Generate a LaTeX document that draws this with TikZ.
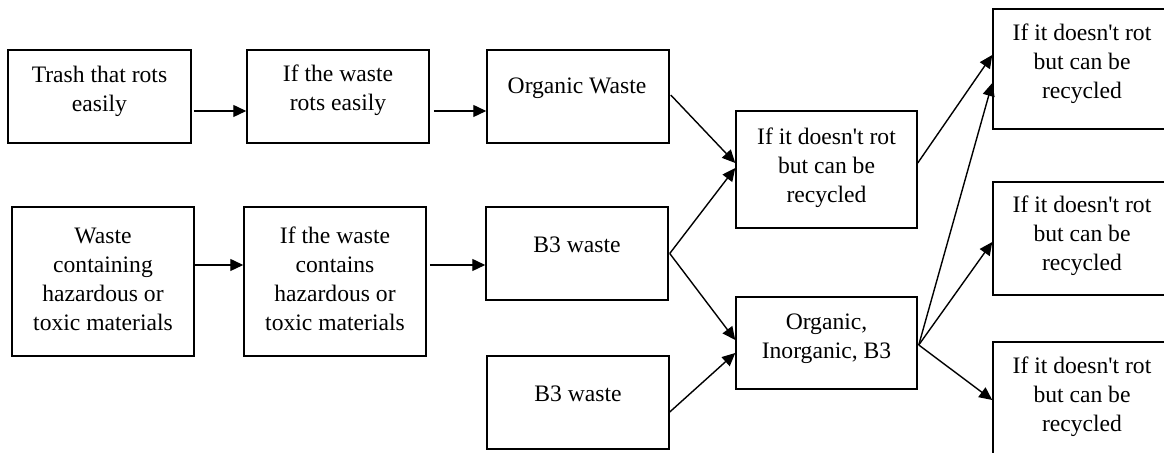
\documentclass[tikz,border=0pt]{standalone}
\usepackage{fontspec}
\setmainfont{Liberation Serif}
\usetikzlibrary{arrows.meta,calc}
\newcommand{\doesnt}{doesn\textquotesingle t}
\begin{document}
\begin{tikzpicture}[x=0.5pt,y=-0.5pt,
  box/.style={draw=black, line width=0.75pt, inner sep=0pt},
  txt/.style={align=center, inner sep=0pt, font=\fontsize{11.8}{14.5}\selectfont},
  arr/.style={draw=black, line width=0.7pt, -{Triangle[length=6.5pt,width=6pt]}}]
\useasboundingbox (0,0) rectangle (1164,453);
\clip (0,0) rectangle (1164,453);
\fill[white] (0,0) rectangle (1164,453);
% boxes
\node[box, minimum width=91.5pt, minimum height=46.5pt] (A) at (99.5,96.5) {};
\node[box, minimum width=91pt, minimum height=46.5pt] (B) at (338,96.5) {};
\node[box, minimum width=91pt, minimum height=74.5pt] (C) at (103,281.5) {};
\node[box, minimum width=91pt, minimum height=74.5pt] (D) at (335,281.5) {};
\node[box, minimum width=91pt, minimum height=46.5pt] (Org) at (578,96.5) {};
\node[box, minimum width=91pt, minimum height=46.5pt] (B3a) at (577,253.5) {};
\node[box, minimum width=91pt, minimum height=46.5pt] (B3b) at (578,402.5) {};
\node[box, minimum width=90.5pt, minimum height=58.5pt] (Mid) at (826.5,169.5) {};
\node[box, minimum width=90.5pt, minimum height=46pt] (OIB) at (826.5,343) {};
\node[box, minimum width=90pt, minimum height=60pt] (R1) at (1083,69) {};
\node[box, minimum width=90pt, minimum height=56.5pt] (R2) at (1083,238.5) {};
\node[box, minimum width=90pt, minimum height=60pt] (R3) at (1083,402) {};
% texts
\node[txt] (tA) at (99.5,91) {Trash that rots\\easily};
\node[txt] (tB) at (338,90) {If the waste\\rots easily};
\node[txt] (tC) at (103,279) {Waste\\containing\\hazardous or\\toxic materials};
\node[txt] (tD) at (335,279) {If the waste\\contains\\hazardous or\\toxic materials};
\node[txt] (tOrg) at (577,88) {Organic Waste};
\node[txt] (tB3a) at (577,245) {B3 waste};
\node[txt] (tB3b) at (578,394) {B3 waste};
\node[txt] (tMid) at (826.5,168) {If it \doesnt{} rot\\but can be\\recycled};
\node[txt] (tOIB) at (826.5,339) {Organic,\\Inorganic, B3};
\node[txt] (tR1) at (1082,64) {If it \doesnt{} rot\\but can be\\recycled};
\node[txt] (tR2) at (1082,236) {If it \doesnt{} rot\\but can be\\recycled};
\node[txt] (tR3) at (1082,397) {If it \doesnt{} rot\\but can be\\recycled};
% arrows
\draw[arr] ($(A.east)+(2,14.5)$) -- ($(B.west)+(0,14.5)$);
\draw[arr] ($(B.east)+(4,14.5)$) -- ($(Org.west)+(0,14.5)$);
\draw[arr] ($(C.east)+(0,-16.5)$) -- ($(D.west)+(0,-16.5)$);
\draw[arr] ($(D.east)+(3,-16.5)$) -- ($(B3a.west)+(0,11.5)$);
\draw[arr] ($(Org.east)+(1,-1.5)$) -- ($(Mid.west)+(0,-6.5)$);
\draw[arr] ($(B3a.east)+(1,0)$) -- ($(Mid.west)+(0,-1.5)$);
\draw[arr] ($(B3a.east)+(1,0)$) -- ($(OIB.west)+(0,-3)$);
\draw[arr] ($(B3b.east)+(0,9.5)$) -- ($(OIB.west)+(0,10)$);
\draw[arr] ($(Mid.east)+(0,-6.5)$) -- ($(R1.west)+(0,-14)$);
\draw[arr] ($(OIB.east)+(1,2)$) -- ($(R1.west)+(0,14)$);
\draw[arr] ($(OIB.east)+(1,2)$) -- ($(R2.west)+(0,3.5)$);
\draw[arr] ($(OIB.east)+(1,2)$) -- ($(R3.west)+(0,-2)$);
\end{tikzpicture}
\end{document}
